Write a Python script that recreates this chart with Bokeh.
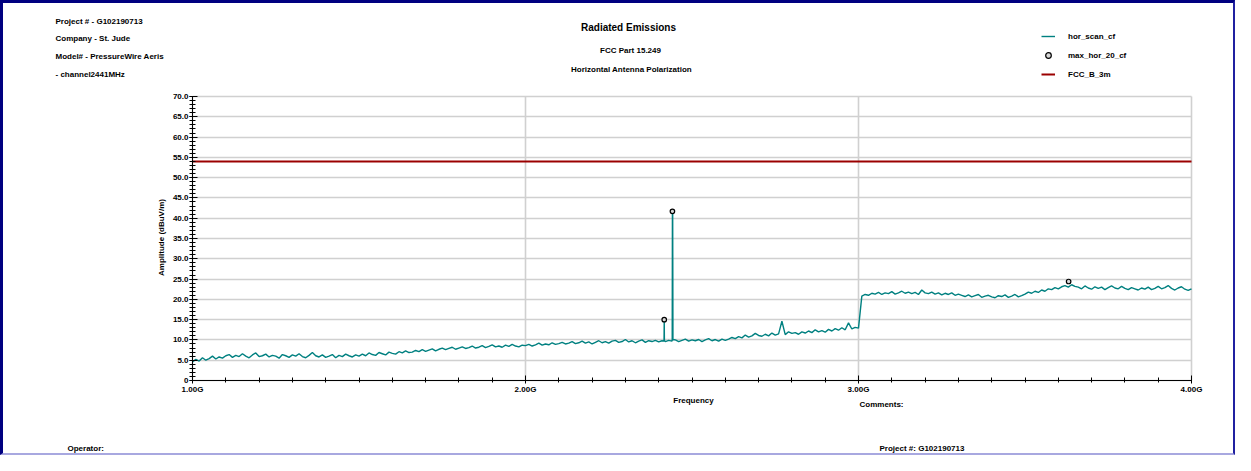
import numpy as np
from bokeh.plotting import figure
from bokeh.models import (Range1d, FixedTicker, Label, Legend, LegendItem, ColumnDataSource,
                          LinearAxis, Grid)
from bokeh.embed import file_html
from bokeh.resources import INLINE

# ---------------- data ----------------
scan_start_mhz = 1000
scan_step_mhz = 10
scan_amp = [
    4.6, 5.2, 4.8, 5.6, 5.0, 5.4, 6.0, 5.3, 5.8, 5.5, 6.1,
    6.4, 5.7, 6.2, 5.9, 6.6, 6.0, 5.6, 6.3, 6.8, 5.9,
    6.1, 6.5, 5.8, 6.2, 6.0, 5.5, 6.4, 6.1, 5.7, 6.3,
    6.0, 6.6, 5.9, 5.6, 6.2, 6.9, 6.1, 5.8, 6.3, 5.7,
    6.0, 6.4, 5.6, 6.2, 5.9, 6.5, 6.1, 5.8, 6.3, 6.0,
    6.5, 6.1, 6.8, 6.4, 6.2, 6.9, 6.6, 6.3, 7.0, 6.7,
    6.5, 7.1, 6.8, 7.3, 6.9, 7.0, 7.4, 7.1, 7.6, 7.2,
    7.5, 7.8, 7.3, 7.7, 8.0, 7.6, 7.9, 8.2, 7.7, 8.0,
    8.3, 7.9, 8.1, 8.5, 8.0, 8.2, 8.6, 8.1, 8.4, 8.8,
    8.3, 8.5, 8.2, 8.7, 8.4, 8.9, 8.5, 8.3, 8.7, 8.6,
    8.9, 8.5, 8.8, 9.2, 8.7, 9.0, 8.8, 9.3, 8.9, 9.1,
    9.4, 9.0, 9.2, 9.6, 9.1, 9.3, 9.7, 9.2, 9.5, 9.0,
    9.4, 9.8, 9.3, 9.6, 9.2, 9.7, 9.9, 9.4, 9.6, 10.1,
    9.5, 9.8, 9.3, 9.7, 10.0, 9.4, 9.8, 9.6, 9.9, 9.5,
    9.8, 9.6, 9.9, 9.7, 10.0, 9.6, 9.9, 10.2, 9.7, 10.0,
    9.8, 10.1, 9.6, 10.0, 10.3, 9.8, 10.1, 9.7, 10.2, 9.9,
    10.2, 10.6, 10.3, 10.8, 10.5, 11.2, 10.7, 11.0, 11.6, 11.1,
    10.9, 11.4, 11.0, 11.7, 11.2, 11.5, 14.6, 11.3, 12.0, 11.6,
    11.8, 11.4, 12.0, 11.7, 12.2, 11.8, 12.5, 12.0, 12.3, 11.9,
    12.6, 12.2, 12.8, 12.4, 13.0, 12.5, 14.2, 12.7, 13.1, 12.9,
    20.8, 21.2, 21.0, 21.5, 21.3, 21.7, 21.2, 21.6, 21.4, 21.9,
    21.3, 21.6, 22.0, 21.5, 21.8, 21.4, 21.7, 21.2, 22.3, 21.6,
    21.4, 21.8, 21.3, 21.6, 21.1, 21.5, 21.2, 21.6, 21.0, 21.3,
    21.0, 20.7, 21.1, 20.6, 20.9, 21.2, 20.5, 20.8, 21.0, 20.6,
    20.4, 20.9, 20.7, 21.1, 20.5, 20.8, 21.2, 20.6, 20.9, 21.3,
    21.8, 21.5, 22.0, 21.7, 22.3, 22.0, 22.6, 22.4, 22.9, 22.6,
    23.1, 23.4, 23.0, 23.6, 23.2,
    23.0, 22.6, 23.3, 22.8, 22.5, 23.1, 22.7, 23.0, 22.4, 22.9,
    23.3, 22.8, 22.6, 23.2, 22.7, 22.4, 22.9, 22.6, 22.3, 22.8,
    22.5, 23.0, 22.4, 22.7, 23.2, 22.6, 22.9, 23.4, 22.7, 22.3,
    22.8, 23.1, 22.5, 22.2, 22.6,
]
spike_freq_mhz = [2416.0, 2416.6, 2417.2, 2440.6, 2441.2, 2442.0, 2442.8]
spike_amp = [9.7, 15.0, 9.8, 10.0, 41.7, 41.2, 10.1]

max_freq_mhz = [2416.6, 2441.2, 3631.0]
max_amp = [15.0, 41.7, 24.4]

limit_freq_mhz = [1000.0, 4000.0]
limit_amp = [54.0, 54.0]

y_ticks = [0, 5, 10, 15, 20, 25, 30, 35, 40, 45, 50, 55, 60, 65, 70]
y_tick_labels = ["0", "5.0", "10.0", "15.0", "20.0", "25.0", "30.0", "35.0",
                 "40.0", "45.0", "50.0", "55.0", "60.0", "65.0", "70.0"]
x_ticks_ghz = [1.0, 2.0, 3.0, 4.0]
x_tick_labels = ["1.00G", "2.00G", "3.00G", "4.00G"]

# ---------------- build trace ----------------
scan_freq = scan_start_mhz + scan_step_mhz * np.arange(len(scan_amp))
f_all = np.concatenate([scan_freq, spike_freq_mhz])
a_all = np.concatenate([scan_amp, spike_amp])
order = np.argsort(f_all, kind="stable")
trace = ColumnDataSource(dict(f=f_all[order] / 1000.0, a=a_all[order]))

# ---------------- layout ----------------
W, H = 1235, 455
OFF = 3                       # canvas origin inside the reference image (page border)
PL, PR, PT, PB = 192 - OFF, 1191 - OFF, 96 - OFF, 380 - OFF   # plot box in canvas px
X0, X1, Y0, Y1 = 1.0, 4.0, 0.0, 70.0
kx = (PR - PL) / (X1 - X0)
ky = (PB - PT) / (Y1 - Y0)
FONT = "Liberation Sans"

# the frame covers the whole canvas; the axes are pinned at the plot box
p = figure(width=W, height=H, output_backend="svg", toolbar_location=None,
           x_axis_location=None, y_axis_location=None,
           x_range=Range1d(X0 - PL / kx, X1 + (W - PR) / kx),
           y_range=Range1d(Y0 - (H - PB) / ky, Y1 + PT / ky),
           min_border=0,
           styles={"border-left": "3px solid #000080", "border-top": "3px solid #000080",
                   "border-right": "2px solid #2020a0", "border-bottom": "2px solid #a8a8e0"})
p.outline_line_color = None
p.background_fill_color = "white"
p.border_fill_color = "white"
p.grid.visible = False

def dx(rx):
    return X0 + (rx - OFF - PL) / kx

def dy(ry):
    return Y0 + (PB - (ry - OFF)) / ky

# grid
has_cross = "cross_bounds" in Grid.properties()
xg = Grid(dimension=0, ticker=FixedTicker(ticks=x_ticks_ghz), bounds=(X0, X1),
          grid_line_color="#d0d0d0", grid_line_width=1.6)
yg = Grid(dimension=1, ticker=FixedTicker(ticks=y_ticks), bounds=(Y0, Y1),
          grid_line_color="#d0d0d0", grid_line_width=1.6)
if has_cross:
    xg.cross_bounds = (Y0, Y1)
    yg.cross_bounds = (X0, X1)
    p.add_layout(xg, "center")
    p.add_layout(yg, "center")
else:
    p.segment(x0=x_ticks_ghz, y0=[Y0] * 4, x1=x_ticks_ghz, y1=[Y1] * 4,
              line_color="#d0d0d0", line_width=1.6)
    p.segment(x0=[X0] * len(y_ticks), y0=y_ticks, x1=[X1] * len(y_ticks), y1=y_ticks,
              line_color="#d0d0d0", line_width=1.6)

# axes
xminor = [1.0 + 0.1 * i for i in range(31)]
yminor = list(range(0, 71))
xaxis = LinearAxis(fixed_location=Y0, bounds=(X0, X1),
                   ticker=FixedTicker(ticks=x_ticks_ghz, minor_ticks=xminor),
                   major_label_overrides={t: l for t, l in zip(x_ticks_ghz, x_tick_labels)},
                   major_tick_in=5, major_tick_out=3, minor_tick_in=3, minor_tick_out=2)
yaxis = LinearAxis(fixed_location=X0, bounds=(Y0, Y1),
                   ticker=FixedTicker(ticks=y_ticks, minor_ticks=yminor),
                   major_label_overrides={t: l for t, l in zip(y_ticks, y_tick_labels)},
                   major_tick_in=5, major_tick_out=3, minor_tick_in=3, minor_tick_out=3)
for ax in (xaxis, yaxis):
    ax.axis_line_color = "black"
    ax.axis_line_width = 1
    ax.major_tick_line_color = "black"
    ax.minor_tick_line_color = "black"
    ax.major_label_text_font = FONT
    ax.major_label_text_font_style = "bold"
    ax.major_label_text_font_size = "8px"
    ax.major_label_text_color = "black"
    ax.major_label_standoff = 1
p.add_layout(xaxis, "below")
p.add_layout(yaxis, "left")

# glyphs
r_scan = p.line("f", "a", source=trace, line_color="#008080", line_width=1.4)
r_lim = p.line([f / 1000.0 for f in limit_freq_mhz], limit_amp, line_color="#9b0000", line_width=2)
r_max = p.scatter([f / 1000.0 for f in max_freq_mhz], max_amp, marker="circle", size=4.5,
                  line_color="black", fill_color="#d8d8d8", line_width=1.2)

legend = Legend(items=[LegendItem(label="hor_scan_cf", renderers=[r_scan]),
                       LegendItem(label="max_hor_20_cf", renderers=[r_max]),
                       LegendItem(label="FCC_B_3m", renderers=[r_lim])],
                location=(1041 - OFF, H - (82 - OFF)), orientation="vertical",
                glyph_width=14, glyph_height=16, label_height=16, spacing=3,
                padding=0, margin=0, label_standoff=13,
                border_line_color=None, background_fill_alpha=0,
                label_text_font=FONT, label_text_font_style="bold",
                label_text_font_size="8px", label_text_color="black")
p.add_layout(legend, "center")

def add_label(text, rx, ry, align="left", size="8px", angle=0.0):
    """rx, ry: position in reference-image pixels"""
    p.add_layout(Label(x=dx(rx), y=dy(ry), text=text, text_align=align,
                       text_baseline="middle", text_font=FONT, text_font_style="bold",
                       text_font_size=size, text_color="black", angle=angle))

add_label("Project # - G102190713", 55, 21)
add_label("Company - St. Jude", 55, 38)
add_label("Model# - PressureWire Aeris", 55, 56)
add_label(" - channel2441MHz", 55, 74)
add_label("Radiated Emissions", 628, 27, align="center", size="10px")
add_label("FCC Part 15.249", 630, 50, align="center")
add_label("Horizontal Antenna Polarization", 631, 69, align="center")
add_label("Frequency", 693, 400, align="center")
add_label("Comments:", 859, 404)
add_label("Amplitude (dBuV/m)", 161, 237, align="center", angle=np.pi / 2)
add_label("Operator:", 67, 448)
add_label("Project #: G102190713", 879, 448)

open("out.html", "w").write(file_html(p, INLINE))
